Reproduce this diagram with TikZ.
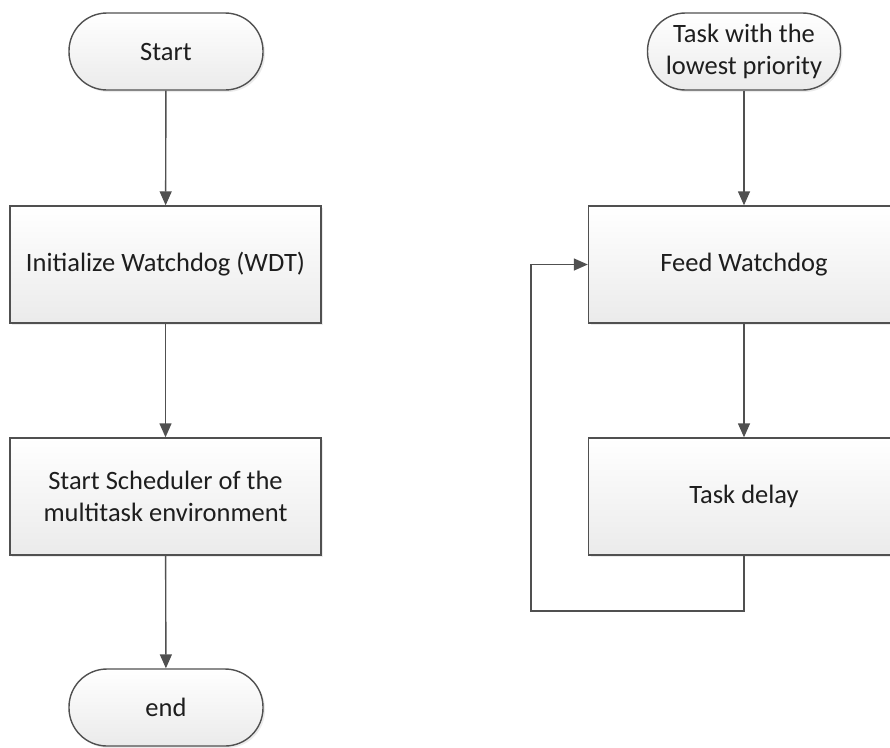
\documentclass[tikz,border=0pt]{standalone}
\usepackage{fontspec}
\setmainfont{Carlito}
\usetikzlibrary{arrows.meta,shadows}
\definecolor{linec}{HTML}{505050}
\definecolor{txtc}{HTML}{1E1E1E}
\tikzset{
  base/.style={draw=linec, line width=1.4pt, inner sep=0pt, align=center,
    text=txtc, font=\fontsize{26.5}{32}\selectfont,
    top color=white, bottom color=black!8, shading angle=0,
    drop shadow={shadow xshift=2pt, shadow yshift=-2pt, opacity=0.08, fill=black}},
  term/.style={base, rectangle, rounded corners=38pt, minimum width=194pt, minimum height=77pt},
  procbox/.style={base, rectangle, minimum width=311pt, minimum height=117pt},
  conn/.style={draw=linec, line width=1.4pt, -{Triangle[length=14pt,width=12pt]}}
}
\begin{document}
\begin{tikzpicture}[x=1pt,y=1pt]
\useasboundingbox (0,0) rectangle (890,-747);
\clip (0,0) rectangle (890,-747);
\fill[white] (0,0) rectangle (890,-747);
% left column
\node[term] (start) at (166,-51.5) {Start};
\node[procbox] (init) at (165.5,-264.5) {Initialize Watchdog (WDT)};
\node[procbox] (sched) at (165.5,-496.5) {Start Scheduler of the\\multitask environment};
\node[term] (stop) at (166,-707.5) {end};
\draw[conn] (start) -- (init);
\draw[conn] (init) -- (sched);
\draw[conn] (sched) -- (stop);
% right column
\node[term, minimum width=193pt] (task) at (744,-51.5) {Task with the\\lowest priority};
\node[procbox] (feed) at (744,-264.5) {Feed Watchdog};
\node[procbox] (delay) at (744,-496.5) {Task delay};
\coordinate (lb) at (531,-611);
\draw[conn] (task) -- (feed);
\draw[conn] (feed) -- (delay);
\draw[conn] (delay.south) |- (lb) |- (feed.west);
\end{tikzpicture}
\end{document}
